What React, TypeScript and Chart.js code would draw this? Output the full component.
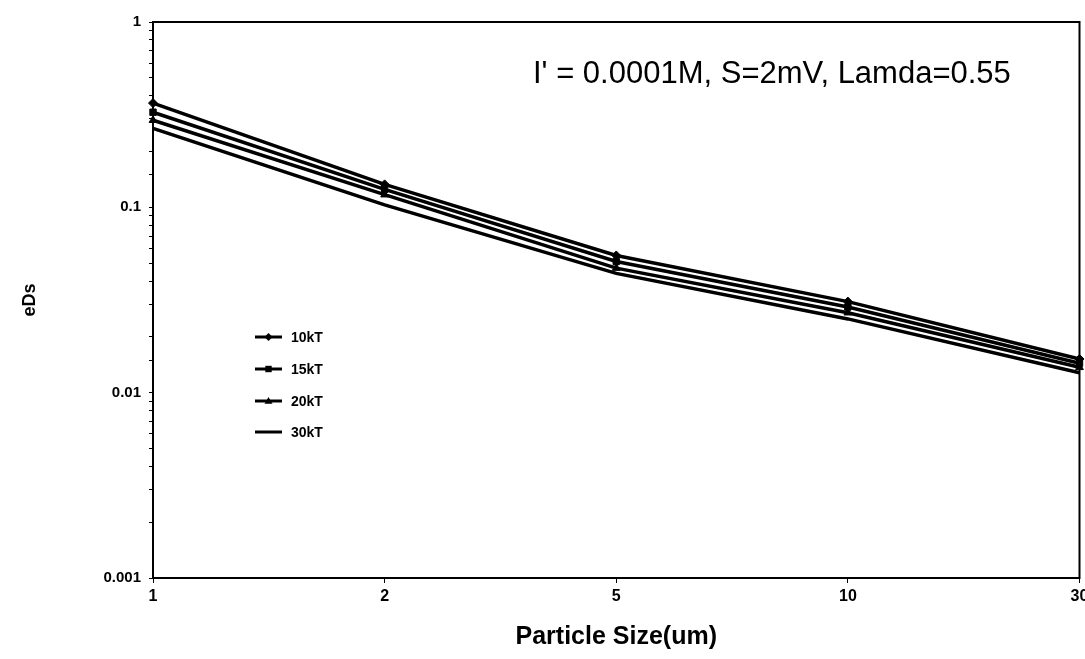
import React, { useEffect, useRef } from "react";
import { Chart, registerables } from "chart.js";

Chart.register(...registerables);

const sizes = ["1", "2", "5", "10", "30"];
const seriesNames = ["10kT", "15kT", "20kT", "30kT"];
const s10kT = [0.365, 0.133, 0.055, 0.031, 0.0152];
const s15kT = [0.326, 0.125, 0.051, 0.029, 0.0144];
const s20kT = [0.295, 0.117, 0.047, 0.027, 0.0137];
const s30kT = [0.267, 0.103, 0.044, 0.025, 0.0128];
const pointStyles = ["rectRot", "rect", "triangle", "line"];
const annotation = "I' = 0.0001M, S=2mV, Lamda=0.55";
const xTitle = "Particle Size(um)";
const yTitle = "eDs";

const FONT = "'Liberation Sans', Arial, sans-serif";

function drawMarker(ctx: CanvasRenderingContext2D, style: string, x: number, y: number, r: number) {
  ctx.beginPath();
  if (style === "rectRot") {
    ctx.moveTo(x, y - r);
    ctx.lineTo(x + r, y);
    ctx.lineTo(x, y + r);
    ctx.lineTo(x - r, y);
    ctx.closePath();
    ctx.fill();
  } else if (style === "rect") {
    ctx.rect(x - r * 0.8, y - r * 0.8, r * 1.6, r * 1.6);
    ctx.fill();
  } else if (style === "triangle") {
    ctx.moveTo(x, y - r);
    ctx.lineTo(x + r, y + r * 0.7);
    ctx.lineTo(x - r, y + r * 0.7);
    ctx.closePath();
    ctx.fill();
  }
}

const framePlugin = {
  id: "framePlugin",
  afterDraw(chart: any) {
    const { ctx, chartArea } = chart;
    ctx.save();
    ctx.strokeStyle = "#000";
    ctx.lineWidth = 2;
    ctx.strokeRect(chartArea.left, chartArea.top, chartArea.right - chartArea.left, chartArea.bottom - chartArea.top);

    // annotation
    ctx.fillStyle = "#000";
    ctx.font = `31px ${FONT}`;
    ctx.textBaseline = "middle";
    ctx.textAlign = "left";
    ctx.fillText(annotation, 533, 74);

    // legend
    const legendY = [337, 369, 401, 432];
    ctx.font = `bold 14px ${FONT}`;
    seriesNames.forEach((name, i) => {
      const y = legendY[i];
      ctx.strokeStyle = "#000";
      ctx.lineWidth = 3;
      ctx.beginPath();
      ctx.moveTo(255, y);
      ctx.lineTo(282, y);
      ctx.stroke();
      ctx.fillStyle = "#000";
      drawMarker(ctx, pointStyles[i], 268.5, y, 4);
      ctx.fillText(name, 291, y + 1);
    });
    ctx.restore();
  },
};

export default function App() {
  const ref = useRef<HTMLCanvasElement | null>(null);

  useEffect(() => {
    if (!ref.current) return;
    const data = [s10kT, s15kT, s20kT, s30kT];
    const chart = new Chart(ref.current, {
      type: "line",
      data: {
        labels: sizes,
        datasets: seriesNames.map((name, i) => ({
          label: name,
          data: data[i],
          borderColor: "#000",
          backgroundColor: "#000",
          borderWidth: 3.5,
          pointStyle: pointStyles[i] as any,
          pointRadius: i === 3 ? 0 : 4.5,
          pointBorderWidth: 1,
          tension: 0,
          fill: false,
        })),
      },
      options: {
        responsive: false,
        animation: false,
        devicePixelRatio: 1,
        layout: { padding: { top: 22, right: 5, left: 0, bottom: 0 } },
        plugins: {
          legend: { display: false },
          tooltip: { enabled: false },
        },
        scales: {
          x: {
            type: "category",
            offset: false,
            afterFit: (s: any) => {
              s.height = 81;
              s.paddingRight = 0;
              s.paddingLeft = 0;
            },
            grid: { display: true, drawOnChartArea: false, drawTicks: true, tickLength: 5, color: "#000", lineWidth: 1 },
            border: { display: true, color: "#000", width: 2 },
            ticks: {
              color: "#000",
              font: { family: FONT, size: 16, weight: "bold" },
              padding: 4,
              maxRotation: 0,
              autoSkip: false,
            },
            title: {
              display: true,
              text: xTitle,
              color: "#000",
              font: { family: FONT, size: 25, weight: "bold" },
              padding: { top: 0, bottom: 7 },
            },
          },
          y: {
            type: "logarithmic",
            min: 0.001,
            max: 1,
            afterFit: (s: any) => {
              s.width = 153;
              s.paddingTop = 0;
              s.paddingBottom = 0;
            },
            grid: { display: true, drawOnChartArea: false, drawTicks: true, tickLength: 4, color: "#000", lineWidth: 1 },
            border: { display: true, color: "#000", width: 2 },
            ticks: {
              color: "#000",
              autoSkip: false,
              padding: 8,
              font: { family: FONT, size: 15, weight: "bold" },
              callback: (v: any) => {
                const l = Math.log10(Number(v));
                return Math.abs(l - Math.round(l)) < 1e-9 ? String(Number(v)) : "";
              },
            },
            title: {
              display: true,
              text: yTitle,
              color: "#000",
              font: { family: FONT, size: 18, weight: "bold" },
              padding: { top: 19, bottom: 0 },
            },
          },
        },
      },
      plugins: [framePlugin],
    });
    return () => chart.destroy();
  }, []);

  return (
    <div style={{ position: "absolute", left: 0, top: 0, width: 1085, height: 659, background: "#fff" }}>
      <canvas ref={ref} width={1085} height={659} style={{ display: "block" }} />
    </div>
  );
}
